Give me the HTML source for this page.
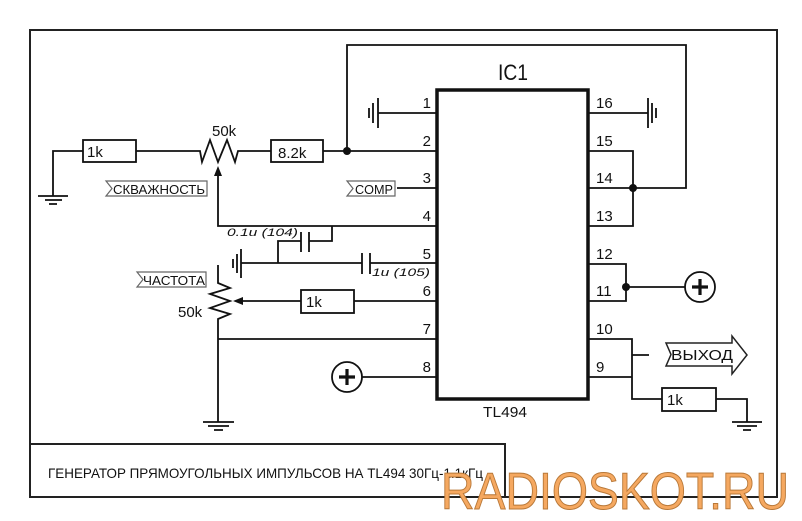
<!DOCTYPE html>
<html>
<head>
<meta charset="utf-8">
<style>
html,body{margin:0;padding:0;background:#fff;}
svg{display:block;}
text{font-family:"Liberation Sans","Noto Sans CJK SC",sans-serif;fill:#111;}
</style>
</head>
<body>
<svg width="802" height="521" viewBox="0 0 802 521" xmlns="http://www.w3.org/2000/svg">
<rect x="0" y="0" width="802" height="521" fill="#fff"/>
<!-- frame -->
<rect x="30" y="30" width="747" height="467" fill="none" stroke="#222" stroke-width="2"/>
<path d="M30,444 H505 V497" fill="none" stroke="#222" stroke-width="2"/>

<g fill="none" stroke="#111" stroke-width="1.8">
<!-- IC -->
<rect x="437" y="90" width="151" height="309" stroke-width="3.5"/>
<!-- pin1 + ground -->
<path d="M378,113 H437"/>
<path d="M378,98 V128 M373,103 V123 M369,108 V118"/>
<!-- pin2 chain -->
<path d="M53,196 V151 H83"/>
<rect x="83" y="140" width="53" height="22"/>
<path d="M136,151 H200 L202,162 L210,140 L218,162 L227,140 L235,162 L238,151 H271"/>
<rect x="271" y="140" width="52" height="22"/>
<path d="M323,151 H437"/>
<path d="M38,196 H68 M45,200 H62 M49,204 H57"/>
<!-- feedback loop -->
<path d="M347,151 V45 H686 V188 H588"/>
<path d="M588,151 H633 V226 H588"/>
<!-- pin16 -->
<path d="M588,113 H648"/>
<path d="M648,98 V128 M652,103 V123 M656,108 V118"/>
<!-- pot1 wiper to pin4 -->
<path d="M218,174 V226 H437"/>
<!-- COMP pin3 -->
<path d="M397,188 H437"/>
<!-- cap 0.1u -->
<path d="M332,226 V241 H309 M301,241 H278 V263"/>
<path d="M301,232 V252 M309,232 V252"/>
<!-- pin5 -->
<path d="M241,263 H362 M370,263 H437"/>
<path d="M362,253 V274 M370,253 V274"/>
<path d="M241,249 V278 M237,254 V273 M233,259 V268"/>
<!-- pot2 -->
<path d="M218,265 V283 L230,288 L210,294 L230,301 L210,308 L230,314 L218,319 V422"/>
<path d="M203,422 H234 M208,426 H229 M214,430 H223"/>
<!-- wiper2 -->
<path d="M242,301 H301"/>
<rect x="301" y="290" width="53" height="23"/>
<path d="M354,301 H437"/>
<!-- pin7 -->
<path d="M218,339 H437"/>
<!-- pin8 plus -->
<circle cx="347" cy="377" r="15"/>
<path d="M362,377 H437"/>
<!-- pins 12/11 -->
<path d="M588,264 H626 V301 H588 M626,287 H685"/>
<circle cx="700" cy="287" r="15"/>
<!-- pins 10/9 -->
<path d="M588,339 H632 V399 H662 M588,377 H632 M632,355 H649"/>
<rect x="662" y="388" width="54" height="23"/>
<path d="M716,399 H747 V422"/>
<path d="M732,422 H762 M737,426 H757 M743,430 H751"/>
</g>

<!-- plus signs -->
<path d="M339,377 H355 M347,369 V385" stroke="#111" stroke-width="3.2" fill="none"/>
<path d="M692,287 H708 M700,279 V295" stroke="#111" stroke-width="3.2" fill="none"/>

<!-- dots -->
<circle cx="347" cy="151" r="4" fill="#111"/>
<circle cx="633" cy="188" r="4" fill="#111"/>
<circle cx="626" cy="287" r="4" fill="#111"/>

<!-- arrowheads -->
<path d="M218,166 L214,176 L222,176 Z" fill="#111"/>
<path d="M233,301 L243,297 L243,305 Z" fill="#111"/>

<!-- tags -->
<path d="M106,181 H207 V196 H106 L112,188.5 Z" fill="#fff" stroke="#666" stroke-width="1.2"/>
<path d="M347,181 H395 V196 H347 L353,188.5 Z" fill="#fff" stroke="#666" stroke-width="1.2"/>
<path d="M137,272 H206 V287 H137 L143,279.5 Z" fill="#fff" stroke="#666" stroke-width="1.2"/>
<path d="M666,343 H732 V336 L747,355 L732,374 V366 H666 L671,354.5 Z" fill="#fff" stroke="#222" stroke-width="1.5"/>

<!-- labels -->
<text x="498" y="80" font-size="22" textLength="30" lengthAdjust="spacingAndGlyphs">IC1</text>
<text x="483" y="417" font-size="15" textLength="44" lengthAdjust="spacingAndGlyphs">TL494</text>

<g font-size="15" text-anchor="end">
<text x="431" y="108">1</text>
<text x="431" y="146">2</text>
<text x="431" y="183">3</text>
<text x="431" y="221">4</text>
<text x="431" y="259">5</text>
<text x="431" y="296">6</text>
<text x="431" y="334">7</text>
<text x="431" y="372">8</text>
</g>
<g font-size="15">
<text x="596" y="108">16</text>
<text x="596" y="146">15</text>
<text x="596" y="183">14</text>
<text x="596" y="221">13</text>
<text x="596" y="259">12</text>
<text x="596" y="296">11</text>
<text x="596" y="334">10</text>
<text x="596" y="372">9</text>
</g>

<g font-size="15">
<text x="87" y="157">1k</text>
<text x="278" y="158">8.2k</text>
<text x="212" y="136">50k</text>
<text x="306" y="307">1k</text>
<text x="178" y="317">50k</text>
<text x="667" y="405">1k</text>
</g>

<text x="113" y="194" font-size="12.5" textLength="92" lengthAdjust="spacingAndGlyphs">СКВАЖНОСТЬ</text>
<text x="355" y="194" font-size="12.5" textLength="38" lengthAdjust="spacingAndGlyphs">COMP</text>
<text x="143" y="285" font-size="12.5" textLength="62" lengthAdjust="spacingAndGlyphs">ЧАСТОТА</text>
<text x="671" y="360" font-size="15" textLength="62" lengthAdjust="spacingAndGlyphs">ВЫХОД</text>

<text x="227" y="236" font-size="11" font-style="italic" textLength="71" lengthAdjust="spacingAndGlyphs">0.1u (104)</text>
<text x="372" y="276" font-size="11" font-style="italic" textLength="58" lengthAdjust="spacingAndGlyphs">1u (105)</text>

<text x="48" y="478" font-size="14" textLength="435" lengthAdjust="spacingAndGlyphs">ГЕНЕРАТОР ПРЯМОУГОЛЬНЫХ ИМПУЛЬСОВ НА TL494 30Гц-1.1кГц</text>

<text x="441" y="509" font-size="52" textLength="348" lengthAdjust="spacingAndGlyphs" style="fill:#f5a860;stroke:#b87838;stroke-width:1;">RADIOSKOT.RU</text>
</svg>
</body>
</html>
